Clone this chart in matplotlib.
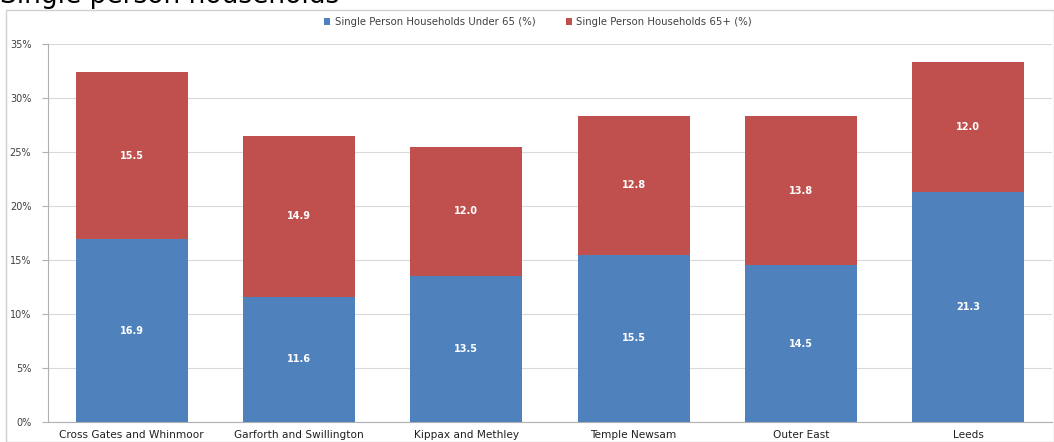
import numpy as np
import matplotlib
matplotlib.use('Agg')
from matplotlib import pyplot as plt
from matplotlib.patches import Rectangle

areas = ['Cross Gates and Whinmoor', 'Garforth and Swillington', 'Kippax and Methley',
         'Temple Newsam', 'Outer East', 'Leeds']
under_65 = [16.9, 11.6, 13.5, 15.5, 14.5, 21.3]
over_65 = [15.5, 14.9, 12.0, 12.8, 13.8, 12.0]
y_ticks = [0, 5, 10, 15, 20, 25, 30, 35]

blue = '#4F81BD'
red = '#C0504D'

fig = plt.figure(figsize=(10.54, 4.42), dpi=100)
fig.patches.append(Rectangle((0.006, 0.0), 0.994, 1 - 10 / 442, transform=fig.transFigure,
                             fill=False, edgecolor='#d0d0d0', linewidth=1))
# title sits mostly above the image edge, like the reference
fig.text(0.0, 1 - 3 / 442, 'Single person households', fontsize=19, family='DejaVu Sans',
         va='baseline', ha='left', color='black')

ax = fig.add_axes([48 / 1054, 1 - 422 / 442, 1004 / 1054, 378 / 442])
x = np.arange(len(areas))
w = 0.67
b1 = ax.bar(x, under_65, w, color=blue, label='Single Person Households Under 65 (%)', zorder=3)
b2 = ax.bar(x, over_65, w, bottom=under_65, color=red, label='Single Person Households 65+ (%)', zorder=3)

for i in range(len(areas)):
    ax.text(x[i], under_65[i] / 2, '%.1f' % under_65[i], ha='center', va='center',
            color='white', fontsize=7, fontweight='bold', zorder=4)
    ax.text(x[i], under_65[i] + over_65[i] / 2, '%.1f' % over_65[i], ha='center', va='center',
            color='white', fontsize=7, fontweight='bold', zorder=4)

ax.set_xlim(-0.5, len(areas) - 0.5)
ax.set_ylim(0, 35)
ax.set_yticks(y_ticks)
ax.set_yticklabels(['%d%%' % t for t in y_ticks], fontsize=7, color='#404040')
ax.set_xticks(x)
ax.set_xticklabels(areas, fontsize=7.6, color='#202020')
ax.tick_params(axis='x', length=0, pad=6)
ax.tick_params(axis='y', length=4, color='#b0b0b0', pad=8)
ax.grid(axis='y', color='#d9d9d9', linewidth=0.8, zorder=0)
for s in ['top', 'right']:
    ax.spines[s].set_visible(False)
ax.spines['left'].set_color('#b0b0b0')
ax.spines['bottom'].set_color('#b0b0b0')

leg = fig.legend(handles=[b1, b2], loc='center', bbox_to_anchor=(538 / 1054, 1 - 22 / 442),
                 ncol=2, frameon=False, fontsize=7.3, handlelength=0.6, handleheight=0.6,
                 columnspacing=3.0, handletextpad=0.4)
for t in leg.get_texts():
    t.set_color('#404040')

fig.savefig('out.png', dpi=100)
